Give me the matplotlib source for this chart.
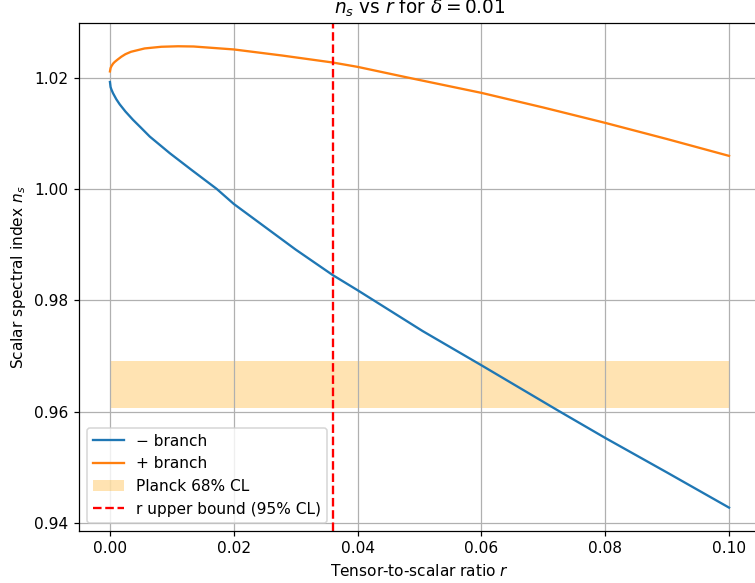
import matplotlib
matplotlib.use('Agg')
import matplotlib.pyplot as plt
import numpy as np

# values
r_minus = [0.0, 0.0001, 0.00022, 0.00049, 0.00103, 0.00157, 0.0025, 0.00373, 0.005, 0.00643,
           0.00968, 0.01319, 0.01724, 0.0200, 0.0300, 0.0360, 0.0400, 0.0505, 0.0600, 0.0723,
           0.0800, 0.0900, 0.1000]
ns_minus = [1.0192, 1.0183, 1.0179, 1.0172, 1.0161, 1.0152, 1.0139, 1.0124, 1.0110, 1.0094,
            1.0064, 1.0034, 1.0000, 0.9973, 0.9891, 0.98451, 0.9818, 0.97447, 0.96832, 0.96024,
            0.95527, 0.94905, 0.94275]

r_plus = [0.0, 0.0001, 0.00022, 0.0005, 0.00076, 0.0012, 0.00185, 0.0025, 0.0034, 0.0056,
          0.0083, 0.0110, 0.0135, 0.0200, 0.0278, 0.0360, 0.0400, 0.0481, 0.0600, 0.0700,
          0.0800, 0.0900, 0.1000]
ns_plus = [1.0211, 1.0217, 1.0220, 1.0225, 1.0228, 1.0232, 1.02375, 1.0242, 1.02463, 1.02523,
           1.02553, 1.02562, 1.02558, 1.02505, 1.02396, 1.0227, 1.02192, 1.0200, 1.01725, 1.01462,
           1.01186, 1.00895, 1.00593]

planck_lo = 0.9607
planck_hi = 0.9691
r_bound = 0.036
delta = 0.01

DPI = 111
fig = plt.figure(figsize=(755/DPI, 583/DPI), dpi=DPI)
ax = fig.add_axes([79/755, 52.3/583, 681/755, 507.5/583])

ax.plot(r_minus, ns_minus, label='\u2212 branch')
ax.plot(r_plus, ns_plus, label='+ branch')
ax.fill_between([r_minus[0], r_minus[-1]], planck_lo, planck_hi, color='orange', alpha=0.3,
                linewidth=0, label='Planck 68% CL')
ax.axvline(r_bound, color='red', linestyle='--', label='r upper bound (95% CL)')

ax.set_xlabel('Tensor-to-scalar ratio $r$')
ax.set_ylabel('Scalar spectral index $n_s$')
ax.set_title(r'$n_s$ vs $r$ for $\delta = %.2f$' % delta)
ax.set_xticks([0.0, 0.02, 0.04, 0.06, 0.08, 0.10])
ax.set_yticks([0.94, 0.96, 0.98, 1.00, 1.02])
ax.grid(True)
ax.legend(loc='lower left')

fig.savefig('out.png', dpi=DPI)
